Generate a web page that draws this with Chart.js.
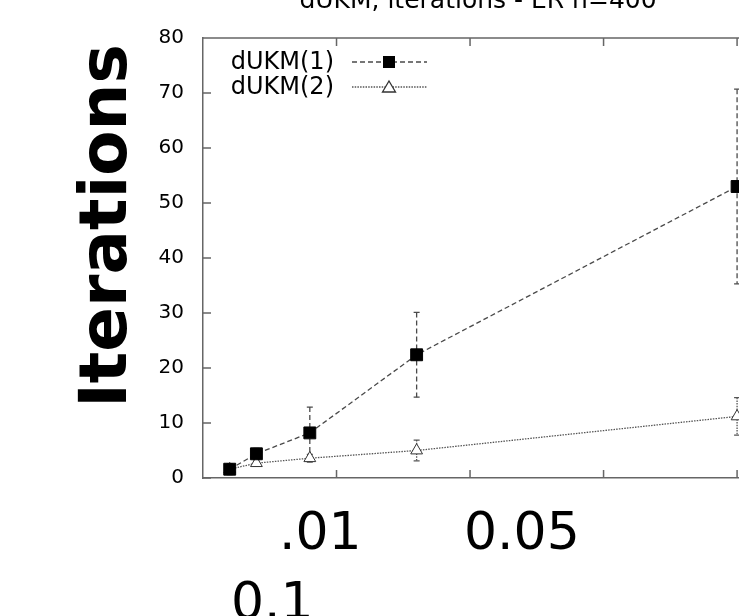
<!DOCTYPE html>
<html>
<head>
<meta charset="utf-8">
<script src="https://cdn.jsdelivr.net/npm/chart.js@4.4.1/dist/chart.umd.min.js"></script>
<style>
  html, body { margin: 0; padding: 0; background: #fff; overflow: hidden; width: 739px; height: 616px; }
  #wrap { position: absolute; left: 0; top: 0; width: 880px; height: 616px; }
</style>
</head>
<body>
<div id="wrap"><canvas id="itChart"></canvas></div>
<script>
// data
const xValues = [0.002, 0.004, 0.008, 0.016, 0.04];
const ukm1Mean = [1.6, 4.4, 8.2, 22.4, 53.0];
const ukm1Err = [1.0, 1.0, 4.7, 7.7, 17.7];
const ukm2Mean = [1.6, 2.7, 3.6, 5.0, 11.2];
const ukm2Err = [0.5, 0.6, 0.7, 1.9, 3.4];
const xTickValues = [0.01, 0.02, 0.03, 0.04];
const bigLabels = ['.01', '0.05', '0.1'];
const seriesNames = ['dUKM(1)', 'dUKM(2)'];
const titleText = 'dUKM, iterations - ER n=400';
const yTitle = 'Iterations';

const pts = (xs, ys) => xs.map((x, i) => ({ x: x, y: ys[i] }));
const errs = [ukm1Err, ukm2Err];
const dashes = [[5, 3], [1.5, 1.2]];
const lineColors = ['#4a4a4a', '#555'];

// gnuplot-like decorations: frame top, inward ticks, error bars, legend, texts
const decor = {
    id: 'decor',
    beforeDatasetsDraw(chart) {
        const ctx = chart.ctx;
        const xs = chart.scales.x, ys = chart.scales.y;
        chart.data.datasets.forEach((ds, di) => {
            ctx.save();
            ctx.strokeStyle = lineColors[di];
            ctx.lineWidth = 1.3;
            ds.data.forEach((p, i) => {
                const px = xs.getPixelForValue(p.x);
                const top = ys.getPixelForValue(p.y + errs[di][i]);
                const bot = ys.getPixelForValue(p.y - errs[di][i]);
                ctx.setLineDash(dashes[di]);
                ctx.beginPath();
                ctx.moveTo(px, top); ctx.lineTo(px, bot);
                ctx.stroke();
                ctx.setLineDash([]);
                ctx.beginPath();
                ctx.moveTo(px - 3, top); ctx.lineTo(px + 3, top);
                ctx.moveTo(px - 3, bot); ctx.lineTo(px + 3, bot);
                ctx.stroke();
            });
            ctx.restore();
        });
    },
    afterDraw(chart) {
        const ctx = chart.ctx;
        const a = chart.chartArea;
        const xs = chart.scales.x, ys = chart.scales.y;
        ctx.save();
        ctx.strokeStyle = '#666';
        ctx.lineWidth = 1.5;
        ctx.beginPath();
        ctx.moveTo(a.left, a.top); ctx.lineTo(a.right, a.top);
        ys.ticks.forEach(t => {
            const py = ys.getPixelForValue(t.value);
            ctx.moveTo(a.left, py); ctx.lineTo(a.left + 8, py);
        });
        xTickValues.forEach(v => {
            const px = xs.getPixelForValue(v);
            ctx.moveTo(px, a.bottom); ctx.lineTo(px, a.bottom - 8);
            ctx.moveTo(px, a.top); ctx.lineTo(px, a.top + 8);
        });
        ctx.stroke();

        // legend
        ctx.font = '24px "DejaVu Sans"';
        ctx.fillStyle = '#000';
        ctx.textAlign = 'right';
        ctx.textBaseline = 'middle';
        [62, 87].forEach((ly, di) => {
            ctx.fillText(seriesNames[di], 334, ly + 1);
            ctx.strokeStyle = lineColors[di];
            ctx.lineWidth = 1.3;
            ctx.setLineDash(dashes[di]);
            ctx.beginPath();
            ctx.moveTo(352, ly); ctx.lineTo(427, ly);
            ctx.stroke();
            ctx.setLineDash([]);
            if (di === 0) {
                ctx.fillStyle = '#000';
                ctx.fillRect(389 - 6, ly - 6, 12, 12);
            } else {
                ctx.fillStyle = '#fff';
                ctx.strokeStyle = '#333';
                ctx.beginPath();
                ctx.moveTo(389, ly - 6); ctx.lineTo(395.5, ly + 5); ctx.lineTo(382.5, ly + 5);
                ctx.closePath();
                ctx.fill(); ctx.stroke();
            }
            ctx.fillStyle = '#000';
        });

        // title (cut off by the top edge)
        ctx.textAlign = 'center';
        ctx.textBaseline = 'alphabetic';
        ctx.font = '25px "DejaVu Sans"';
        ctx.fillText(titleText, 478, 8);

        // y axis title
        ctx.save();
        ctx.translate(126, 226);
        ctx.rotate(-Math.PI / 2);
        ctx.font = 'bold 66px "DejaVu Sans"';
        ctx.textAlign = 'center';
        ctx.fillText(yTitle, 0, 0);
        ctx.restore();

        // large overlaid x labels
        ctx.font = '52px "DejaVu Sans"';
        ctx.textAlign = 'left';
        ctx.fillText(bigLabels[0], 279, 549);
        ctx.fillText(bigLabels[1], 464, 549);
        ctx.fillText(bigLabels[2], 231, 619);
        ctx.restore();
    }
};

document.addEventListener('DOMContentLoaded', function() {
    const ctx = document.getElementById('itChart').getContext('2d');
    new Chart(ctx, {
        type: 'line',
        data: {
            datasets: [
                {
                    label: seriesNames[0],
                    data: pts(xValues, ukm1Mean),
                    borderColor: lineColors[0],
                    borderWidth: 1.3,
                    borderDash: dashes[0],
                    pointStyle: 'rect',
                    pointRadius: 8.4,
                    pointBackgroundColor: '#000',
                    pointBorderColor: '#000',
                    pointBorderWidth: 1,
                    fill: false,
                    tension: 0
                },
                {
                    label: seriesNames[1],
                    data: pts(xValues, ukm2Mean),
                    borderColor: lineColors[1],
                    borderWidth: 1.3,
                    borderDash: dashes[1],
                    pointStyle: 'triangle',
                    pointRadius: 6.8,
                    pointBackgroundColor: '#fff',
                    pointBorderColor: '#333',
                    pointBorderWidth: 1,
                    fill: false,
                    tension: 0
                }
            ]
        },
        options: {
            responsive: true,
            maintainAspectRatio: false,
            animation: false,
            layout: { padding: { left: 0, right: 7, top: 38, bottom: 138 } },
            plugins: {
                legend: { display: false },
                title: { display: false },
                tooltip: { enabled: false }
            },
            scales: {
                x: {
                    type: 'linear',
                    min: 0,
                    max: 0.05,
                    grid: { display: false, drawTicks: false },
                    border: { display: true, color: '#666', width: 1.5 },
                    ticks: { display: false },
                    afterFit: function(s) { s.height = 0; }
                },
                y: {
                    min: 0,
                    max: 80,
                    grid: { display: false, drawTicks: false },
                    border: { display: true, color: '#666', width: 1.5 },
                    ticks: {
                        stepSize: 10,
                        padding: 19,
                        color: '#000',
                        font: { family: 'DejaVu Sans', size: 20 }
                    },
                    afterFit: function(s) { s.width = 203; }
                }
            }
        },
        plugins: [decor]
    });
});
</script>
</body>
</html>
